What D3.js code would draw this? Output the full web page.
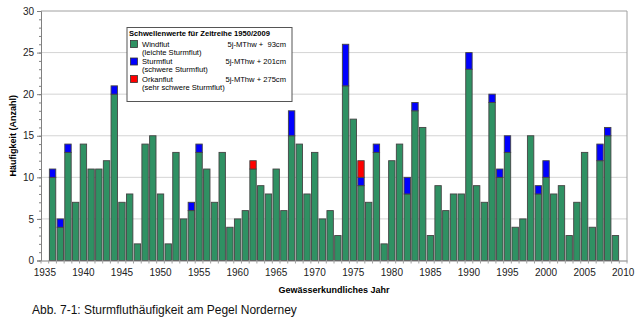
<!DOCTYPE html>
<html><head><meta charset="utf-8">
<script src="https://cdnjs.cloudflare.com/ajax/libs/d3/7.8.5/d3.min.js"></script>
<style>body{margin:0;background:#fff;} svg{display:block;font-family:"Liberation Sans",Arial,sans-serif;}</style>
</head><body><div id="chart"></div>
<script>
const years = d3.range(1936, 2010);
const windflut = [10,4,13,7,14,11,11,12,20,7,8,2,14,15,8,2,13,5,6,13,11,7,13,4,5,6,11,9,8,11,6,15,14,8,13,5,6,3,21,17,9,7,13,2,12,14,8,18,16,3,9,6,8,8,23,9,7,19,10,13,4,5,15,8,10,8,9,3,7,13,4,12,15,3];
const sturmflut = [1,1,1,0,0,0,0,0,1,0,0,0,0,0,0,0,0,0,1,1,0,0,0,0,0,0,0,0,0,0,0,3,0,0,0,0,0,0,5,0,1,0,1,0,0,0,2,1,0,0,0,0,0,0,2,0,0,1,1,2,0,0,0,1,2,0,0,0,0,0,0,2,1,0];
const orkanflut = [0,0,0,0,0,0,0,0,0,0,0,0,0,0,0,0,0,0,0,0,0,0,0,0,0,0,1,0,0,0,0,0,0,0,0,0,0,0,0,0,2,0,0,0,0,0,0,0,0,0,0,0,0,0,0,0,0,0,0,0,0,0,0,0,0,0,0,0,0,0,0,0,0,0];
const seriesNames = ["Windflut","Sturmflut","Orkanflut"];
const seriesSub = ["(leichte Sturmflut)","(schwere Sturmflut)","(sehr schwere Sturmflut)"];
const seriesThreshold = ["5j-MThw +  93cm","5j-MThw + 201cm","5j-MThw + 275cm"];
const colors = ["#2f9163","#0000ff","#ff0000"];
const yTicks = [0,5,10,15,20,25,30];
const xTickYears = d3.range(1935, 2011, 5);
const legendTitle = "Schwellenwerte für Zeitreihe 1950/2009";
const yTitle = "Häufigkeit (Anzahl)";
const xTitle = "Gewässerkundliches Jahr";
const caption = "Abb. 7-1: Sturmfluthäufigkeit am Pegel Norderney";

const W = 640, H = 322;
const m = {left:41, right:627, top:11, bottom:260.5};
const svg = d3.select("#chart").append("svg").attr("width", W).attr("height", H);

const table = years.map((y,i)=>({year:y, Windflut:windflut[i], Sturmflut:sturmflut[i], Orkanflut:orkanflut[i]}));
const stack = d3.stack().keys(seriesNames)(table);

const x = d3.scaleBand().domain(d3.range(1935, 2011)).range([m.left, m.right]).paddingInner(0.17).paddingOuter(0.085);
const y = d3.scaleLinear().domain([0,30]).range([m.bottom, m.top]);

// gridlines
svg.append("g").selectAll("line").data(yTicks.filter(t=>t>0 && t<30)).join("line")
  .attr("x1", m.left).attr("x2", m.right).attr("y1", d=>y(d)).attr("y2", d=>y(d))
  .attr("stroke", "#d4d4d4").attr("stroke-width", 1);

// frame top/right
svg.append("path").attr("d", `M${m.left},${y(30)}H${m.right}V${m.bottom}`).attr("fill","none").attr("stroke","#a0a0a0").attr("stroke-width",1);

// bars
svg.append("g").selectAll("g").data(stack).join("g")
  .attr("fill", (d,i)=>colors[i])
  .selectAll("rect").data(d=>d.filter(p=>p[1]>p[0])).join("rect")
  .attr("x", d=>x(d.data.year)).attr("width", x.bandwidth())
  .attr("y", d=>y(d[1])).attr("height", d=>y(d[0])-y(d[1]))
  .attr("stroke", "#444").attr("stroke-width", 0.9);

// y axis
const yAxis = d3.axisLeft(y).tickValues(yTicks).tickSize(4).tickPadding(3);
const gy = svg.append("g").attr("transform", `translate(${m.left},0)`).call(yAxis);
gy.select(".domain").attr("stroke","#808080");
gy.selectAll(".tick line").attr("stroke","#808080");
gy.selectAll("text").attr("font-size", 10).attr("fill","#222");
svg.append("g").attr("transform", `translate(${m.left},0)`)
  .call(d3.axisLeft(y).tickValues(d3.range(0,31)).tickSize(2).tickFormat(""))
  .call(g=>g.select(".domain").remove()).selectAll("line").attr("stroke","#808080");

// x axis
const xAxis = d3.axisBottom(x).tickValues(xTickYears).tickSize(0).tickPadding(8);
const gx = svg.append("g").attr("transform", `translate(0,${m.bottom})`).call(xAxis);
gx.select(".domain").attr("stroke","#808080");
gx.selectAll("text").attr("font-size", 10).attr("fill","#222");
svg.append("g").attr("transform", `translate(0,${m.bottom})`)
  .selectAll("line").data(d3.range(1935, 2012)).join("line")
  .attr("x1", d=>m.left + (d-1935)*(m.right-m.left)/76).attr("x2", d=>m.left + (d-1935)*(m.right-m.left)/76)
  .attr("y1",0).attr("y2",3).attr("stroke","#a0a0a0");

// titles
svg.append("text").attr("transform", `translate(16,${(m.top+m.bottom)/2}) rotate(-90)`)
  .attr("text-anchor","middle").attr("font-size",9).attr("font-weight","bold").text(yTitle);
svg.append("text").attr("x", 334).attr("y", 293).attr("text-anchor","middle")
  .attr("font-size",9).attr("font-weight","bold").text(xTitle);
svg.append("text").attr("x", 32).attr("y", 314).attr("font-size",12).attr("fill","#111").text(caption);

// legend
const lg = svg.append("g");
lg.append("rect").attr("x",127).attr("y",27.5).attr("width",165).attr("height",74)
  .attr("fill","#fff").attr("stroke","#555").attr("stroke-width",1);
lg.append("text").attr("x",129).attr("y",36).attr("font-size",7.6).attr("font-weight","bold").text(legendTitle);
seriesNames.forEach((s,i)=>{
  const cy = 44 + i*17.5;
  lg.append("rect").attr("x",130.5).attr("y",cy-3.5).attr("width",7).attr("height",7)
    .attr("fill",colors[i]).attr("stroke","#333").attr("stroke-width",0.8);
  lg.append("text").attr("x",142).attr("y",cy+2.8).attr("font-size",7.6).text(s);
  lg.append("text").attr("x",142).attr("y",cy+10.8).attr("font-size",7.6).text(seriesSub[i]);
  lg.append("text").attr("x",286).attr("y",cy+2.8).attr("font-size",7.6).attr("text-anchor","end")
    .attr("xml:space","preserve").style("white-space","pre").text(seriesThreshold[i]);
});
</script></body></html>
